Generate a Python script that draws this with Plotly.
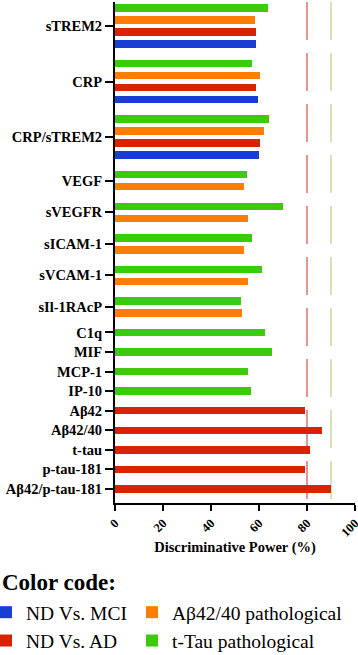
import plotly.graph_objects as go

categories = ["sTREM2", "CRP", "CRP/sTREM2", "VEGF", "sVEGFR", "sICAM-1", "sVCAM-1",
              "sIl-1RAcP", "C1q", "MIF", "MCP-1", "IP-10", "Aβ42", "Aβ42/40",
              "t-tau", "p-tau-181", "Aβ42/p-tau-181"]

ttau_path = [63.6, 57.2, 64.3, 54.9, 70.0, 57.2, 61.1, 52.4, 62.5, 65.6, 55.4, 56.7,
             None, None, None, None, None]
ab4240_path = [58.5, 60.6, 62.2, 53.8, 55.3, 53.6, 55.3, 53.1,
               None, None, None, None, None, None, None, None, None]
nd_vs_ad = [58.8, 58.8, 60.4, None, None, None, None, None, None, None, None, None,
            79.2, 86.2, 81.1, 79.2, 90.0]
nd_vs_mci = [58.6, 59.7, 60.1] + [None] * 14

thresholds = [80, 90]
x_ticks = [0, 20, 40, 60, 80, 100]

series = {
    "ttau": dict(name="t-Tau pathological", values=ttau_path, color="#3ccb0c", legend="legend2"),
    "ab": dict(name="Aβ42/40 pathological", values=ab4240_path, color="#ff7d05", legend="legend2"),
    "ad": dict(name="ND Vs. AD", values=nd_vs_ad, color="#d92300", legend="legend"),
    "mci": dict(name="ND Vs. MCI", values=nd_vs_mci, color="#1a3ed3", legend="legend"),
}
stack_order = ["ttau", "ab", "ad", "mci"]      # top to bottom inside a group
legend_order = ["mci", "ad", "ab", "ttau"]

STEP = 1.0
GROUP_STEP = 1.63
ypos = {k: [] for k in series}
xval = {k: [] for k in series}
tickvals = []
cur = None
for i, cat in enumerate(categories):
    group = []
    for k in stack_order:
        v = series[k]["values"][i]
        if v is None:
            continue
        if cur is None:
            cur = 0.0
        elif group:
            cur += STEP
        else:
            cur += GROUP_STEP
        ypos[k].append(cur)
        xval[k].append(v)
        group.append(cur)
    tickvals.append(sum(group) / len(group))

serif = "Liberation Serif"

W, H = 358, 655
ML, MR, MT, MB = 115, 3, 2, 152
PW, PH = W - ML - MR, H - MT - MB


def px_to_paper(px, py):
    return (px - ML) / PW, (H - MB - py) / PH


fig = go.Figure()
for k in legend_order:
    s = series[k]
    fig.add_trace(go.Bar(
        x=xval[k], y=ypos[k], orientation="h", width=0.62,
        name=s["name"], legend=s["legend"], legendgroup=k,
        marker=dict(color=s["color"], line=dict(width=0)),
    ))

for t, c in zip(thresholds, ["#e07a72", "#cbdba4"]):
    fig.add_shape(type="line", xref="x", yref="paper", x0=t, x1=t, y0=1, y1=0,
                  line=dict(color=c, width=1.6, dash="38px,13px"), layer="below")

legend_common = dict(
    orientation="v", xref="paper", yref="container", yanchor="top",
    xanchor="left", traceorder="normal", tracegroupgap=9,
    bgcolor="rgba(0,0,0,0)", borderwidth=0,
    font=dict(family=serif, size=19.5, color="black"),
    itemclick=False, itemdoubleclick=False,
)

cx, cy = px_to_paper(0, 582)
fig.update_layout(
    width=W, height=H,
    margin=dict(l=ML, r=MR, t=MT, b=MB, autoexpand=False),
    paper_bgcolor="white", plot_bgcolor="white",
    bargap=0,
    font=dict(family=serif, color="black"),
    showlegend=True,
    legend=dict(x=px_to_paper(-14, 0)[0], y=1 - 593 / H, **legend_common),
    legend2=dict(x=px_to_paper(132, 0)[0], y=1 - 593 / H, **legend_common),
    annotations=[dict(
        text="<b>Color code:</b>", xref="paper", yref="paper",
        x=cx, xanchor="left", y=cy, yanchor="middle",
        showarrow=False, font=dict(family=serif, size=23, color="black"),
    )],
)

fig.update_yaxes(
    range=[41.25, -0.5], tickmode="array", tickvals=tickvals,
    ticktext=["<b>%s</b>" % c for c in categories], automargin=False,
    ticks="outside", ticklen=8, tickwidth=2, tickcolor="black",
    showline=True, linecolor="black", linewidth=2, showgrid=False, zeroline=False,
    tickfont=dict(family=serif, size=14.5, color="black"),
)
fig.update_xaxes(
    range=[0, 100], tickmode="array", tickvals=x_ticks,
    ticktext=["<b>%d</b>" % v for v in x_ticks], automargin=False,
    ticklabeloverflow="allow",
    tickangle=-45, ticks="outside", ticklen=6, tickwidth=2, tickcolor="black",
    showline=True, linecolor="black", linewidth=2, showgrid=False, zeroline=False,
    tickfont=dict(family=serif, size=12.5, color="black"),
    title=dict(text="<b>Discriminative Power (%)</b>", standoff=3,
               font=dict(family=serif, size=14.5, color="black")),
)

fig.write_html("out.html", config={"displayModeBar": False},
               post_script="document.body.style.margin='0';")
